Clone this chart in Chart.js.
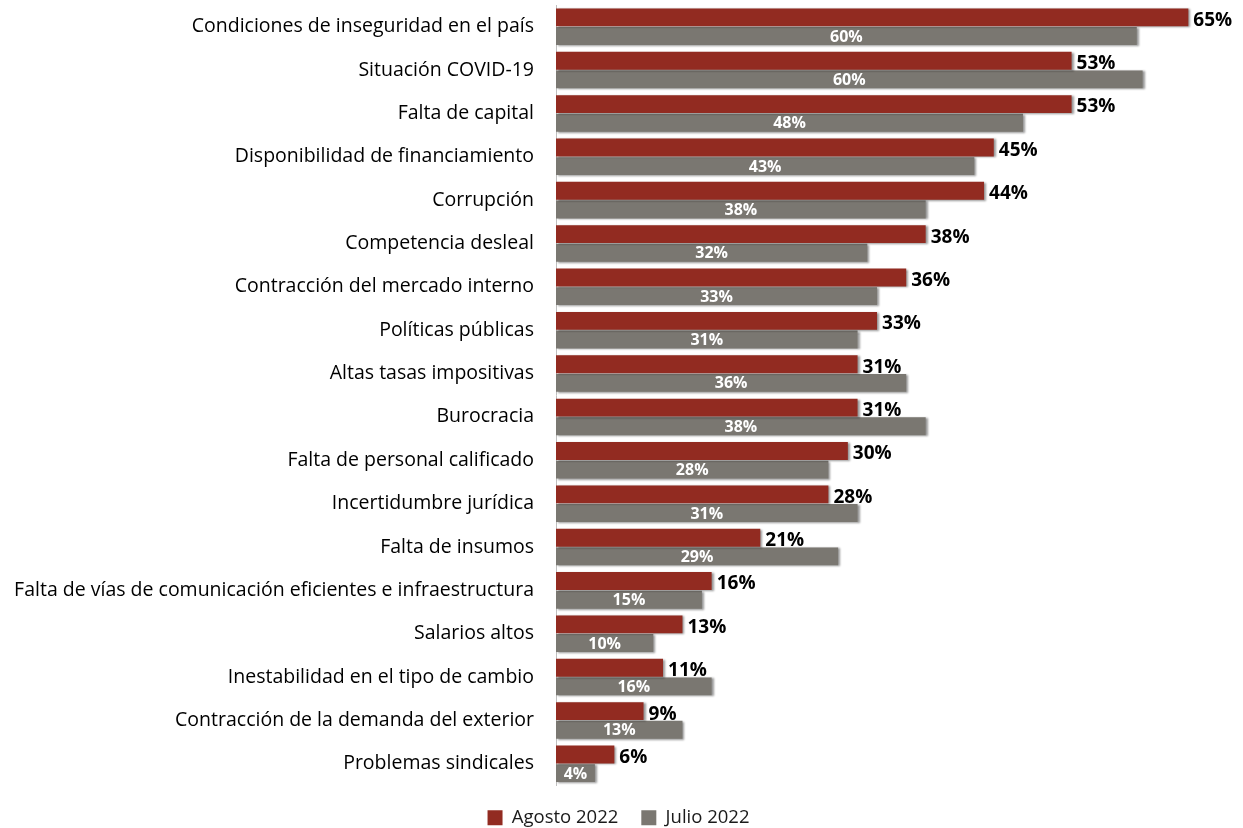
<!DOCTYPE html>
<html>
<head>
<meta charset="utf-8">
<script src="https://cdn.jsdelivr.net/npm/chart.js@4"></script>
<style>
  html, body { margin: 0; padding: 0; background: #fff; }
  #wrap { width: 1243px; height: 828px; }
</style>
</head>
<body>
<div id="wrap"><canvas id="chart"></canvas></div>
<script>
// categorias
const categorias = [
    'Condiciones de inseguridad en el país',
    'Situación COVID-19',
    'Falta de capital',
    'Disponibilidad de financiamiento',
    'Corrupción',
    'Competencia desleal',
    'Contracción del mercado interno',
    'Políticas públicas',
    'Altas tasas impositivas',
    'Burocracia',
    'Falta de personal calificado',
    'Incertidumbre jurídica',
    'Falta de insumos',
    'Falta de vías de comunicación eficientes e infraestructura',
    'Salarios altos',
    'Inestabilidad en el tipo de cambio',
    'Contracción de la demanda del exterior',
    'Problemas sindicales'
];

// series (%)
const agosto2022 = [65, 53, 53, 45, 44, 38, 36, 33, 31, 31, 30, 28, 21, 16, 13, 11, 9, 6];
const julio2022 = [59.7, 60.3, 48, 43, 38, 32, 33, 31, 36, 38, 28, 31, 29, 15, 10, 16, 13, 4];

const FONT = '"Open Sans", Lato, sans-serif';
const ROJO = '#922b21';
const GRIS = '#7a7771';

// sombra suave en las barras
const sombraBarras = {
    id: 'sombraBarras',
    beforeDatasetDraw(chart) {
        const ctx = chart.ctx;
        ctx.save();
        ctx.shadowColor = 'rgba(0,0,0,0.4)';
        ctx.shadowOffsetX = 2;
        ctx.shadowOffsetY = 1;
        ctx.shadowBlur = 2;
    },
    afterDatasetDraw(chart) {
        chart.ctx.restore();
    }
};

// etiquetas de datos
const etiquetas = {
    id: 'etiquetas',
    afterDatasetsDraw(chart) {
        const ctx = chart.ctx;
        ctx.save();
        ctx.textBaseline = 'middle';

        // Agosto: fuera del extremo, negro
        ctx.font = 'bold 19px ' + FONT;
        ctx.fillStyle = '#000';
        ctx.textAlign = 'left';
        chart.getDatasetMeta(0).data.forEach((bar, i) => {
            ctx.fillText(Math.round(agosto2022[i]) + '%', bar.x + 5, bar.y + 3);
        });

        // Julio: centrado dentro de la barra, blanco
        ctx.font = 'bold 16px ' + FONT;
        ctx.fillStyle = '#fff';
        ctx.textAlign = 'center';
        chart.getDatasetMeta(1).data.forEach((bar, i) => {
            ctx.fillText(Math.round(julio2022[i]) + '%', (bar.x + bar.base) / 2, bar.y + 1);
        });
        ctx.restore();
    }
};

new Chart(document.getElementById('chart'), {
    type: 'bar',
    data: {
        labels: categorias,
        datasets: [
            { label: 'Agosto 2022', data: agosto2022, backgroundColor: ROJO },
            { label: 'Julio 2022', data: julio2022, backgroundColor: GRIS }
        ]
    },
    options: {
        indexAxis: 'y',
        responsive: true,
        maintainAspectRatio: false,
        animation: false,
        datasets: {
            bar: { categoryPercentage: 0.86, barPercentage: 0.96 }
        },
        layout: { padding: { top: 5, right: 6, left: 0, bottom: -9 } },
        scales: {
            x: {
                display: false,
                min: 0,
                max: 70
            },
            y: {
                grid: { display: false },
                border: { display: true, color: '#bfbfbf', width: 1 },
                ticks: {
                    color: '#000',
                    padding: 14,
                    font: { family: FONT, size: 19.5 }
                },
                afterFit(scale) {
                    scale.width = 556;
                    scale.paddingTop = 0;
                    scale.paddingBottom = 0;
                }
            }
        },
        plugins: {
            legend: {
                position: 'bottom',
                labels: {
                    color: '#1a1a1a',
                    boxWidth: 15,
                    boxHeight: 15,
                    padding: 23,
                    font: { family: FONT, size: 18.5 }
                }
            },
            tooltip: { enabled: false }
        }
    },
    plugins: [sombraBarras, etiquetas]
});
</script>
</body>
</html>
